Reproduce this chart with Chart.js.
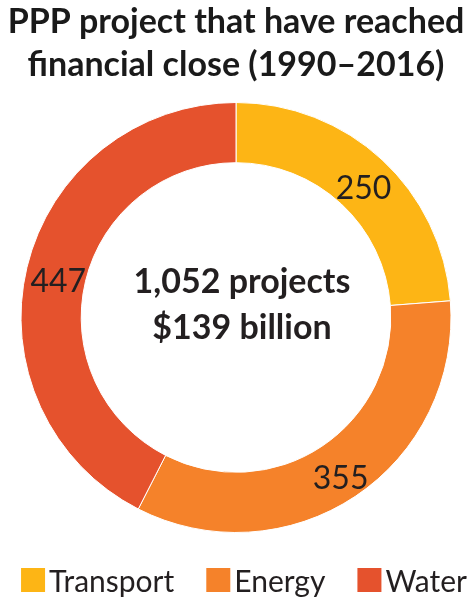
<!DOCTYPE html>
<html>
<head>
<meta charset="utf-8">
<title>PPP projects</title>
<script src="https://cdn.jsdelivr.net/npm/chart.js@4/dist/chart.umd.min.js"></script>
<style>
  html, body { margin: 0; padding: 0; background: #fff; }
  canvas { display: block; }
</style>
</head>
<body>
<canvas id="pppChart" width="475" height="599"></canvas>
<script>
// sectors and number of projects per sector
const sectors = ['Transport', 'Energy', 'Water'];
const projectCounts = [250, 355, 447];
const sectorColors = ['#FDB515', '#F5822A', '#E5522D'];

const titleLines = ['PPP project that have reached', 'financial close (1990–2016)'];
const investment = '$139 billion';

const FONT = 'Lato, "Open Sans", sans-serif';
const TEXT_DARK = '#231F20';

// total shown in the hole of the ring
const totalProjects = projectCounts.reduce((a, b) => a + b, 0);

// value written on each slice, at the middle of the arc
const sliceLabels = {
    id: 'sliceLabels',
    afterDatasetsDraw(chart) {
        const ctx = chart.ctx;
        const meta = chart.getDatasetMeta(0);
        ctx.save();
        ctx.font = '32px ' + FONT;
        ctx.fillStyle = TEXT_DARK;
        ctx.textAlign = 'center';
        ctx.textBaseline = 'middle';
        meta.data.forEach((arc, i) => {
            const p = arc.getCenterPoint();
            ctx.fillText(chart.data.datasets[0].data[i], p.x + 2, p.y + 7);
        });
        ctx.restore();
    }
};

// two lines of text in the middle of the doughnut
const centerText = {
    id: 'centerText',
    afterDraw(chart) {
        const ctx = chart.ctx;
        const arc = chart.getDatasetMeta(0).data[0];
        const cx = arc.x + 6;
        const cy = arc.y;
        ctx.save();
        ctx.font = 'bold 34px ' + FONT;
        ctx.fillStyle = TEXT_DARK;
        ctx.textAlign = 'center';
        ctx.textBaseline = 'alphabetic';
        ctx.fillText(totalProjects.toLocaleString('en-US') + ' projects', cx, cy - 25);
        ctx.fillText(investment, cx, cy + 21);
        ctx.restore();
    }
};

// square swatches with the sector name, in one row under the chart
const bottomLegend = {
    id: 'bottomLegend',
    afterDraw(chart) {
        const ctx = chart.ctx;
        const labels = chart.data.labels;
        const colors = chart.data.datasets[0].backgroundColor;
        const box = 24, textGap = 4, itemGap = 32;
        ctx.save();
        ctx.font = '30px ' + FONT;
        const widths = labels.map(l => box + textGap + ctx.measureText(l).width);
        const total = widths.reduce((a, b) => a + b, 0) + itemGap * (labels.length - 1);
        let x = 244 - total / 2;
        const baseY = chart.height - 7;
        labels.forEach((label, i) => {
            ctx.fillStyle = colors[i];
            ctx.fillRect(x, baseY - box, box, box);
            ctx.fillStyle = TEXT_DARK;
            ctx.textAlign = 'left';
            ctx.textBaseline = 'alphabetic';
            ctx.fillText(label, x + box + textGap, baseY);
            x += widths[i] + itemGap;
        });
        ctx.restore();
    }
};

new Chart(document.getElementById('pppChart'), {
    type: 'doughnut',
    data: {
        labels: sectors,
        datasets: [{
            data: projectCounts,
            backgroundColor: sectorColors,
            borderColor: '#fff',
            borderWidth: 1,
            hoverOffset: 0
        }]
    },
    options: {
        responsive: false,
        animation: false,
        cutout: '72%',
        layout: {
            padding: { top: 0, bottom: 66, left: 0, right: 3 }
        },
        plugins: {
            legend: { display: false },
            tooltip: { enabled: false },
            title: {
                display: true,
                text: titleLines,
                color: '#1a1a1a',
                font: { family: FONT, size: 34, weight: 'bold', lineHeight: 43 / 34 },
                padding: { top: 1, bottom: 15 }
            }
        }
    },
    plugins: [sliceLabels, centerText, bottomLegend]
});
</script>
</body>
</html>
